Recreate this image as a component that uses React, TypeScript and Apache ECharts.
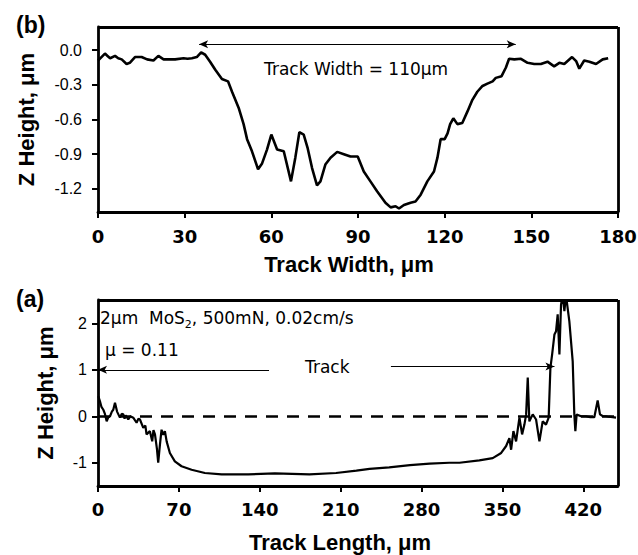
import React, { useEffect, useRef } from "react";
import * as echarts from "echarts";

// Panel (b): track width profile
const widthX = [0, 1.2, 2.4, 3.3, 4.2, 5.9, 7, 8.2, 9.9, 11, 12.8, 15.1, 17, 19.2, 20.9, 22.7, 24.5, 26.7, 29.6, 31, 32.5, 34.2, 35.7, 37.1, 38.8, 40.6, 42.9, 45, 46.4, 48.7, 50.4, 51.6, 53.3, 55.4, 56.8, 58.5, 60, 61.4, 62, 64.3, 66.8, 68.3, 69.7, 71.2, 72.6, 74.1, 75.8, 77, 78.7, 80.5, 82.8, 85.1, 87.4, 89.9, 92, 94.3, 96.6, 99.5, 101.3, 103, 104.2, 105.9, 108.2, 109.9, 111.7, 114, 116.3, 117.5, 118.6, 120, 121, 121.9, 123, 124.4, 126.1, 127.9, 129.6, 131.3, 133.1, 134.8, 136.6, 137.7, 139.7, 141.2, 142.3, 144.1, 146.4, 148.7, 151, 153.3, 155.6, 157.9, 159.7, 161.4, 164.1, 165.5, 166.6, 168.3, 170.1, 172.4, 174.7, 176.6];
const widthZ = [-0.09, -0.06, -0.03, -0.05, -0.07, -0.05, -0.07, -0.08, -0.12, -0.11, -0.06, -0.06, -0.08, -0.09, -0.05, -0.08, -0.08, -0.08, -0.07, -0.075, -0.07, -0.06, -0.02, -0.04, -0.1, -0.17, -0.25, -0.27, -0.36, -0.5, -0.64, -0.77, -0.875, -1.03, -0.98, -0.86, -0.73, -0.82, -0.86, -0.875, -1.135, -0.93, -0.71, -0.73, -0.85, -1.02, -1.17, -1.135, -0.99, -0.93, -0.88, -0.9, -0.92, -0.92, -1.05, -1.135, -1.22, -1.32, -1.36, -1.35, -1.37, -1.34, -1.32, -1.31, -1.25, -1.135, -1.05, -0.93, -0.77, -0.77, -0.72, -0.64, -0.59, -0.64, -0.63, -0.53, -0.43, -0.36, -0.31, -0.29, -0.27, -0.24, -0.225, -0.15, -0.075, -0.08, -0.075, -0.11, -0.12, -0.12, -0.1, -0.14, -0.11, -0.12, -0.06, -0.095, -0.16, -0.09, -0.1, -0.12, -0.08, -0.07];

// Panel (a): track length profile
const lengthX = [0.3, 1.7, 3, 4.6, 6, 7.5, 9, 10.4, 12, 13.2, 14.7, 16.5, 19, 20.5, 21.9, 23, 24, 26.2, 28, 30.5, 33.4, 35, 36.3, 39.2, 41, 42, 44.9, 46.9, 48, 49.3, 51, 52.1, 53.6, 55, 56.5, 57.9, 59.4, 62.2, 66.5, 72.3, 81, 92.5, 107, 130, 153, 183, 206, 223.6, 235, 252, 270, 287, 304, 312.8, 330, 341.6, 348.9, 353.2, 356, 357.5, 359.5, 361.8, 364.7, 367, 369, 370.5, 371.9, 373.3, 376.2, 379.1, 382, 384.8, 387.7, 390, 391.5, 393, 395, 396.4, 397.8, 399.3, 400.7, 402.1, 403.6, 405, 407.9, 410.8, 412.2, 413.1, 414.2, 418, 422.3, 426, 429.5, 432.4, 434.4, 437, 439.6, 442, 445.3, 448.3];
const lengthZ = [0.43, 0.32, 0.2, 0.14, 0.05, -0.11, -0.02, 0, 0.1, 0.14, 0.29, 0.1, -0.03, 0.05, 0.04, -0.05, 0.02, -0.07, 0, -0.03, -0.14, -0.05, -0.07, -0.25, -0.2, -0.39, -0.32, -0.54, -0.3, -0.39, -0.7, -1.0, -0.61, -0.29, -0.4, -0.32, -0.54, -0.79, -0.97, -1.075, -1.15, -1.22, -1.25, -1.25, -1.23, -1.25, -1.22, -1.17, -1.13, -1.1, -1.05, -1.02, -1.0, -1.0, -0.95, -0.9, -0.79, -0.64, -0.47, -0.72, -0.32, -0.54, -0.03, -0.39, -0.18, 0.04, 0.83, -0.11, 0.04, -0.07, -0.54, -0.11, -0.18, -0.03, 1.04, 1.33, 1.76, 1.83, 2.19, 1.33, 2.4, 2.6, 2.26, 2.6, 2.04, 1.18, 0.04, -0.32, 0.04, 0, 0, -0.02, -0.02, 0.34, 0.04, 0, 0, -0.01, -0.02, -0.03];

// Tick values
const widthTicks = [0, 30, 60, 90, 120, 150, 180];
const widthZTicks = [-1.2, -0.9, -0.6, -0.3, 0];
const lengthTicks = [0, 70, 140, 210, 280, 350, 420];
const lengthZTicks = [-1, 0, 1, 2];

// Axis ranges
const widthRange = [0, 180];
const widthZRange = [-1.4, 0.2];
const lengthRange = [0, 450];
const lengthZRange = [-1.5, 2.5];

// Annotation anchors (data units)
const widthArrow = [35, 144.6, 0.05];
const trackArrowLeft = [148, 0, 1];
const trackArrowRight = [253.5, 395, 1.07];

const BLACK = "#000";
const ARIAL = "'Liberation Sans', Arial, sans-serif";
const DEJAVU = "'DejaVu Sans', sans-serif";

function xAxisCfg(gridIndex: number, range: number[], ticks: number[], name: string, nameGap: number, shift: number, labelMargin: number) {
  return {
    type: "value",
    gridIndex,
    min: range[0],
    max: range[1],
    position: "bottom",
    name,
    nameLocation: "middle",
    nameGap,
    nameTextStyle: { fontFamily: ARIAL, fontWeight: "bold", fontSize: 22, color: BLACK, padding: [0, shift, 0, 0] },
    axisLine: { show: true, onZero: false, lineStyle: { color: BLACK, width: 2.8 } },
    axisTick: { show: true, inside: false, length: 6, customValues: ticks, lineStyle: { color: BLACK, width: 2 } },
    axisLabel: { show: true, customValues: ticks, margin: labelMargin, fontFamily: DEJAVU, fontWeight: "bold", fontSize: 18, color: BLACK },
    splitLine: { show: false },
  };
}

function yAxisCfg(gridIndex: number, range: number[], ticks: number[], decimals: number, nameGap: number, labelMargin: number) {
  return {
    type: "value",
    gridIndex,
    min: range[0],
    max: range[1],
    position: "left",
    name: "Z Height, μm",
    nameLocation: "middle",
    nameGap,
    nameTextStyle: { fontFamily: ARIAL, fontWeight: "bold", fontSize: 22, color: BLACK },
    axisLine: { show: true, onZero: false, lineStyle: { color: BLACK, width: 2.8 } },
    axisTick: { show: true, inside: false, length: 6, customValues: ticks, lineStyle: { color: BLACK, width: 2 } },
    axisLabel: {
      show: true,
      customValues: ticks,
      margin: labelMargin,
      fontFamily: ARIAL,
      fontSize: 16,
      color: BLACK,
      formatter: (v: number) => (decimals ? v.toFixed(decimals) : String(Math.round(v))),
    },
    splitLine: { show: false },
  };
}

// Top and right edges of the plot box, as mark-line segments in data space
function frameLines(xr: number[], yr: number[]) {
  const st = { type: "solid", width: 2.8, color: BLACK };
  return [
    [
      { coord: [xr[0], yr[1]], symbol: "none", lineStyle: st },
      { coord: [xr[1], yr[1]], symbol: "none" },
    ],
    [
      { coord: [xr[1], yr[1]], symbol: "none", lineStyle: st },
      { coord: [xr[1], yr[0]], symbol: "none" },
    ],
  ];
}

export default function App() {
  const ref = useRef<HTMLDivElement>(null);

  useEffect(() => {
    if (!ref.current) return;
    const chart = echarts.init(ref.current, undefined, { renderer: "svg" });

    const widthData = widthX.map((x, i) => [x, widthZ[i]]);
    const lengthData = lengthX.map((x, i) => [x, lengthZ[i]]);

    chart.setOption({
      animation: false,
      backgroundColor: "#fff",
      grid: [
        { left: 98, top: 27, width: 520, height: 185, outerBoundsMode: "none" },
        { left: 98, top: 300, width: 520, height: 186, outerBoundsMode: "none" },
      ],
      xAxis: [
        xAxisCfg(0, widthRange, widthTicks, "Track Width, μm", 41, 18, 15),
        xAxisCfg(1, lengthRange, lengthTicks, "Track Length, μm", 45, 36, 14),
      ],
      yAxis: [
        yAxisCfg(0, widthZRange, widthZTicks, 1, 61, 16),
        yAxisCfg(1, lengthZRange, lengthZTicks, 0, 42, 11),
      ],
      series: [
        {
          type: "line",
          xAxisIndex: 0,
          yAxisIndex: 0,
          data: widthData,
          showSymbol: false,
          symbol: "none",
          clip: true,
          lineStyle: { color: BLACK, width: 2.6 },
          markLine: {
            silent: true,
            symbol: ["arrow", "arrow"],
            symbolSize: [6, 9],
            label: { show: false },
            lineStyle: { color: BLACK, width: 1, type: "solid" },
            data: [
              [{ coord: [widthArrow[0], widthArrow[2]] }, { coord: [widthArrow[1], widthArrow[2]] }],
              ...frameLines(widthRange, widthZRange),
            ],
          },
        },
        {
          type: "line",
          xAxisIndex: 1,
          yAxisIndex: 1,
          data: lengthData,
          showSymbol: false,
          symbol: "none",
          clip: true,
          lineStyle: { color: BLACK, width: 2.2 },
          markLine: {
            silent: true,
            symbol: ["none", "arrow"],
            symbolSize: [6, 9],
            label: { show: false },
            lineStyle: { color: BLACK, width: 1, type: "solid" },
            data: [
              [
                { coord: [0, 0], symbol: "none", lineStyle: { type: [12, 9], width: 2.5, color: BLACK } },
                { coord: [450, 0], symbol: "none" },
              ],
              [
                { coord: [trackArrowLeft[0], trackArrowLeft[2]], symbol: "none" },
                { coord: [trackArrowLeft[1], trackArrowLeft[2]], symbol: "arrow" },
              ],
              [
                { coord: [trackArrowRight[0], trackArrowRight[2]], symbol: "none" },
                { coord: [trackArrowRight[1], trackArrowRight[2]], symbol: "arrow" },
              ],
              ...frameLines(lengthRange, lengthZRange),
            ],
          },
        },
      ],
      graphic: [
        { type: "text", left: 16, top: 13, style: { text: "(b)", fontFamily: ARIAL, fontWeight: "bold", fontSize: 23, fill: BLACK } },
        { type: "text", left: 16, top: 287, style: { text: "(a)", fontFamily: ARIAL, fontWeight: "bold", fontSize: 23, fill: BLACK } },
        { type: "text", x: 264, y: 69, style: { text: "Track Width = 110μm", fontFamily: DEJAVU, fontSize: 17, fill: BLACK, verticalAlign: "middle" } },
        {
          type: "text",
          x: 100,
          y: 318,
          style: {
            text: "{a|2μm  MoS}{s|2}{a|, 500mN, 0.02cm/s}",
            fill: BLACK,
            verticalAlign: "middle",
            rich: {
              a: { fontFamily: DEJAVU, fontSize: 17, fill: BLACK, verticalAlign: "middle" },
              s: { fontFamily: DEJAVU, fontSize: 11, fill: BLACK, padding: [12, 0, 0, 0] },
            },
          },
        },
        { type: "text", x: 105, y: 350, style: { text: "μ = 0.11", fontFamily: DEJAVU, fontSize: 17, fill: BLACK, verticalAlign: "middle" } },
        { type: "text", x: 305, y: 367, style: { text: "Track", fontFamily: DEJAVU, fontSize: 17, fill: BLACK, verticalAlign: "middle" } },
      ],
    });

    return () => chart.dispose();
  }, []);

  return <div ref={ref} style={{ position: "fixed", left: 0, top: 0, width: 638, height: 555, background: "#fff" }} />;
}
